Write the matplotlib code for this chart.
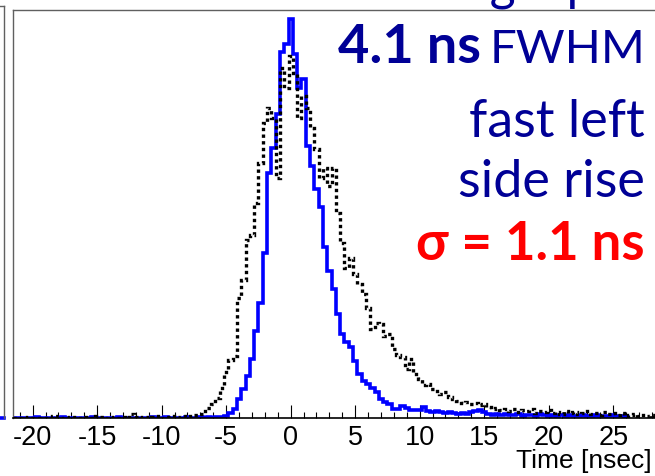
import numpy as np
import matplotlib
matplotlib.use("Agg")
import matplotlib.pyplot as plt

plt.rcParams["axes.unicode_minus"] = False

W, H = 655, 477

# ---- histogram data (counts) ----
bin_w = 1.0 / 3.0      # ns
t_first = -21.5        # lower edge of first bin

blue_counts = [
    0, 0, 0, 0, 0, 1, 0, 0, 0, 0,
    0, 1, 0, 0, 0, 0, 0, 0, 1, 0,
    0, 0, 0, 0, 1, 0, 0, 0, 0, 0,
    0, 0, 1, 0, 0, 1, 0, 0, 0, 0,
    1, 0, 0, 1, 0, 1, 0, 1, 1, 2,
    5, 9, 19, 29, 42, 59, 87, 115, 165, 245,
    270, 304, 366, 374, 399, 364, 330, 339, 272, 252,
    229, 211, 171, 147, 129, 104, 84, 76, 71, 57,
    44, 37, 34, 30, 26, 19, 16, 14, 9, 9,
    12, 10, 8, 8, 8, 11, 7, 6, 7, 6,
    5, 6, 5, 4, 5, 4, 6, 7, 8, 6,
    4, 3, 4, 3, 4, 3, 3, 4, 2, 3,
    3, 2, 4, 3, 2, 3, 2, 3, 2, 3,
    2, 2, 3, 2, 2, 3, 2, 2, 2, 3,
    2, 2, 1,
]

black_counts = [
    0, 0, 1, 0, 0, 0, 0, 0, 0, 2,
    1, 0, 0, 1, 0, 0, 1, 0, 0, 2,
    1, 0, 1, 0, 0, 1, 0, 4, 1, 0,
    1, 0, 1, 2, 0, 1, 1, 2, 1, 2,
    1, 2, 3, 4, 7, 10, 14, 20, 30, 46,
    58, 62, 120, 138, 178, 183, 215, 255, 295, 310,
    300, 240, 350, 330, 362, 345, 300, 322, 310, 290,
    269, 240, 250, 232, 250, 205, 175, 150, 160, 144,
    134, 124, 110, 89, 95, 94, 82, 84, 69, 63,
    61, 49, 59, 44, 39, 33, 34, 29, 27, 24,
    26, 21, 19, 17, 15, 16, 14, 15, 13, 14,
    11, 9, 10, 8, 9, 7, 9, 6, 8, 7,
    9, 5, 7, 6, 8, 5, 6, 4, 7, 5,
    6, 4, 5, 7, 4, 5, 3, 6, 4, 5,
    3, 5, 2, 3, 4, 2, 3, 2, 3, 2,
]

xticks = [-20, -15, -10, -5, 0, 5, 10, 15, 20, 25]

blue_edges = t_first + bin_w * np.arange(len(blue_counts) + 1)
black_edges = t_first + bin_w * np.arange(len(black_counts) + 1)

# ---- layout (pixel based, axis continues past the right edge) ----
x_left_px, x_bot_px, y_top_px = 12.7, 419.3, 11.0
px_per_ns = 12.9
xmin, xmax = -21.55, 30.0
x_right_px = x_left_px + (xmax - xmin) * px_per_ns

fig = plt.figure(figsize=(W / 100, H / 100), dpi=100)
ax = fig.add_axes([x_left_px / W, 1 - x_bot_px / H,
                   (x_right_px - x_left_px) / W, (x_bot_px - y_top_px) / H])

ax.stairs(blue_counts, blue_edges, color="#0000ff", lw=2.6, zorder=2)
ax.stairs(black_counts, black_edges, color="black", lw=2.4,
          linestyle=(0, (1, 1)), zorder=3)

ax.set_xlim(xmin, xmax)
ax.set_ylim(0, x_bot_px - y_top_px)

ax.set_xticks(xticks)
ax.set_xticks(np.arange(-21, 31, 1), minor=True)
ax.set_yticks([])
ax.tick_params(axis="x", which="major", direction="in", length=9.5, width=0.8,
               labelsize=19.5, pad=4)
ax.tick_params(axis="x", which="minor", direction="in", length=4.5, width=0.8)
for lab in ax.get_xticklabels():
    lab.set_family("Liberation Sans")

for s in ("left", "top", "right"):
    ax.spines[s].set_color("#606060")
    ax.spines[s].set_linewidth(1.0)
ax.spines["bottom"].set_color("black")
ax.spines["bottom"].set_linewidth(1.2)

fig.text(652 / W, 1 - 468.5 / H, "Time [nsec]", ha="right", va="baseline",
         fontsize=19, family="Liberation Sans")

# neighbouring panel, cut off at the left edge
ax2 = fig.add_axes([-0.2, 1 - x_bot_px / H, 0.2 + 4.3 / W, (x_bot_px - 7) / H])
ax2.set_xticks([])
ax2.set_yticks([])
for s in ("left", "bottom"):
    ax2.spines[s].set_visible(False)
for s in ("top", "right"):
    ax2.spines[s].set_color("#606060")
    ax2.spines[s].set_linewidth(1.0)
ax2.axhline(0, color="#0000ff", lw=2.6, clip_on=False)
ax2.set_ylim(0, 1)

# annotations on the right
navy = "#000096"
txt_font = "Lato"
fig.text(645 / W, 1 + 1 / H, "single p.e.", ha="right", va="baseline",
         fontsize=36, color=navy, family=txt_font)
fig.text(645 / W, 1 - 63 / H, "FWHM", ha="right", va="baseline",
         fontsize=34, color=navy, family=txt_font)
fig.text(481 / W, 1 - 63 / H, "4.1 ns", ha="right", va="baseline",
         fontsize=39, color=navy, family=txt_font, weight="bold")
fig.text(645 / W, 1 - 137 / H, "fast left", ha="right", va="baseline",
         fontsize=37.5, color=navy, family=txt_font)
fig.text(645 / W, 1 - 197 / H, "side rise", ha="right", va="baseline",
         fontsize=37.5, color=navy, family=txt_font)
fig.text(645 / W, 1 - 260 / H, "σ = 1.1 ns", ha="right", va="baseline",
         fontsize=38, color="#ff0000", family=txt_font, weight="bold")

fig.savefig("out.png", dpi=100)
